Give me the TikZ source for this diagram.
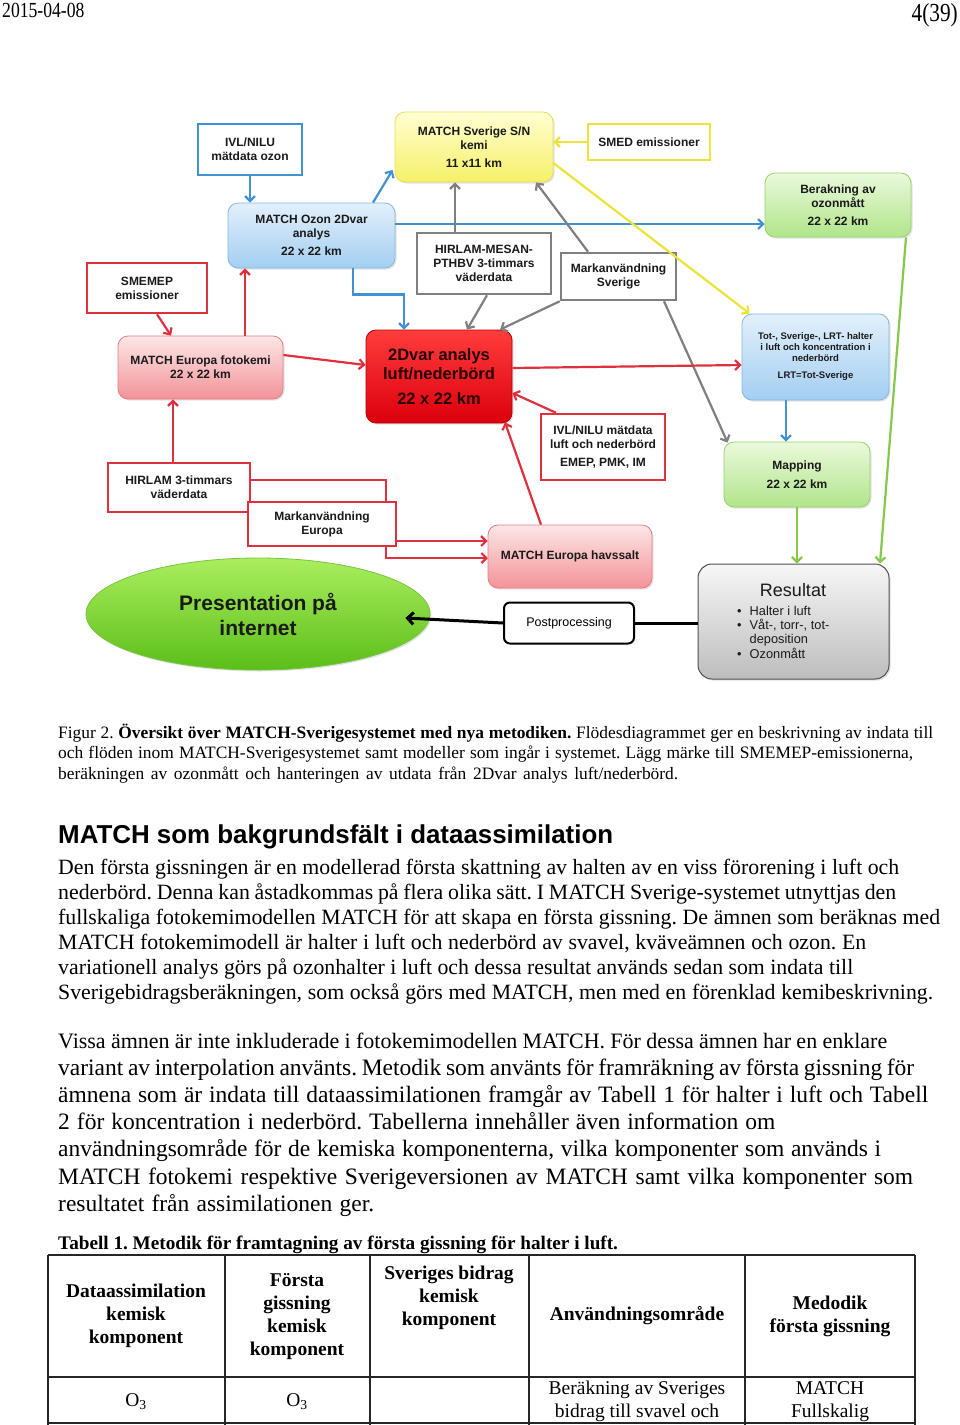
\documentclass[tikz,border=0pt]{standalone}
\usepackage{fontspec}
\setmainfont{Liberation Serif}
\setsansfont{Liberation Sans}
\newfontfamily\condserif[FakeStretch=0.82]{Liberation Serif}
\usetikzlibrary{arrows.meta,shapes.geometric,shadows,calc}
\frenchspacing
\newcommand{\fitline}[2]{\makebox[#1pt][s]{#2}}
\definecolor{blueln}{HTML}{4192D2}
\definecolor{bluetop}{HTML}{E2F0FB}
\definecolor{bluebot}{HTML}{A3CEF1}
\definecolor{bluebd}{HTML}{86B8E2}
\definecolor{yelln}{HTML}{EDE43A}
\definecolor{yeltop}{HTML}{FFFFD2}
\definecolor{yelbot}{HTML}{F6F068}
\definecolor{yelbd}{HTML}{E6DE5A}
\definecolor{greenln}{HTML}{86C94A}
\definecolor{greentop}{HTML}{EAF9DC}
\definecolor{greenbot}{HTML}{B0E58A}
\definecolor{greenbd}{HTML}{98D26A}
\definecolor{redln}{HTML}{E0303E}
\definecolor{pinktop}{HTML}{FDE6E6}
\definecolor{pinkbot}{HTML}{F29398}
\definecolor{pinkbd}{HTML}{E77D83}
\definecolor{dvartop}{HTML}{FF3C3C}
\definecolor{dvarbot}{HTML}{DC000C}
\definecolor{dvarbd}{HTML}{B5000A}
\definecolor{grayln}{HTML}{808080}
\definecolor{elltop}{HTML}{AAEE5E}
\definecolor{ellbot}{HTML}{5BBE18}
\definecolor{ellbd}{HTML}{78C444}
\definecolor{restop}{HTML}{F6F6F6}
\definecolor{resbot}{HTML}{BDBDBD}
\definecolor{resbd}{HTML}{505050}
\definecolor{dgtext}{HTML}{1A1A1A}
\tikzset{
  dg/.style={font=\sffamily\bfseries\fontsize{12}{14}\selectfont, align=center, text=dgtext, inner sep=0pt},
  plainbox/.style={dg, rectangle, draw, line width=2.5pt, fill=white},
  rbox/.style={dg, rectangle, rounded corners=10pt, draw, line width=0.8pt,
     drop shadow={opacity=0.22, shadow xshift=1.5pt, shadow yshift=-1.5pt}},
  bluebox/.style={rbox, draw=bluebd, top color=bluetop, bottom color=bluebot},
  yelbox/.style={rbox, draw=yelbd, top color=yeltop, bottom color=yelbot},
  greenbox/.style={rbox, draw=greenbd, top color=greentop, bottom color=greenbot},
  pinkbox/.style={rbox, draw=pinkbd, top color=pinktop, bottom color=pinkbot},
  conn/.style={line width=2.2pt, -{Straight Barb[length=5pt,width=10pt]}},
  bodytxt/.style={anchor=base west, inner sep=0pt, font=\fontsize{21.8}{25}\selectfont},
  bodytxtb/.style={anchor=base west, inner sep=0pt, font=\fontsize{23.5}{27}\selectfont},
  captxt/.style={anchor=base west, inner sep=0pt, font=\fontsize{17.4}{20}\selectfont},
  tabtxt/.style={inner sep=0pt, align=center, font=\bfseries\fontsize{19.5}{23}\selectfont},
  tabrow/.style={inner sep=0pt, align=center, font=\fontsize{19.5}{23}\selectfont},
  tabline/.style={line width=1.3pt, black!85},
}
\begin{document}
\begin{tikzpicture}[x=1pt,y=-1pt]
\useasboundingbox (0,0) rectangle (960,1425);
\fill[white] (0,0) rectangle (960,1425);

% header
\node[anchor=base west, inner sep=0pt, font=\condserif\fontsize{21.5}{24}\selectfont] (date) at (2,17) {2015-04-08};
\node[anchor=base east, inner sep=0pt, font=\condserif\fontsize{26}{28}\selectfont] (page) at (958,21) {4(39)};

% ---------- diagram nodes ----------
\node[plainbox, draw=blueln, minimum width=104pt, minimum height=51pt] (ivlozon) at (250,149.5) {IVL/NILU\\mätdata ozon};
\node[yelbox, minimum width=158pt, minimum height=70pt] (sverige) at (474,147) {MATCH Sverige S/N\\kemi\\[4pt]11 x11 km};
\node[plainbox, draw=yelln, minimum width=122pt, minimum height=36pt] (smed) at (649,142) {SMED emissioner};
\node[greenbox, minimum width=146pt, minimum height=64pt] (berak) at (838,205) {Berakning av\\ozonmått\\[4pt]22 x 22 km};
\node[bluebox, minimum width=167pt, minimum height=65pt] (ozon) at (311.5,235.5) {MATCH Ozon 2Dvar\\analys\\[4pt]22 x 22 km};
\node[plainbox, draw=grayln, minimum width=134pt, minimum height=61pt] (hirmes) at (484,263.5) {HIRLAM-MESAN-\\PTHBV 3-timmars\\väderdata};
\node[plainbox, draw=grayln, minimum width=115pt, minimum height=47pt] (marksv) at (618.5,276.5) {Markanvändning\\Sverige};
\node[plainbox, draw=redln, minimum width=120pt, minimum height=50pt] (smemep) at (147,288) {SMEMEP\\emissioner};
\node[pinkbox, minimum width=165pt, minimum height=63pt] (eurfoto) at (200.5,367.5) {MATCH Europa fotokemi\\22 x 22 km};
\node[rbox, draw=dvarbd, top color=dvartop, bottom color=dvarbot, minimum width=146pt, minimum height=93pt,
      font=\sffamily\bfseries\fontsize{16.5}{19}\selectfont, text=black!85!red] (dvar) at (439,376.5) {2Dvar analys\\luft/nederbörd\\[6pt]22 x 22 km};
\node[bluebox, minimum width=147pt, minimum height=86pt, font=\sffamily\bfseries\fontsize{9.5}{11}\selectfont] (tot) at (815.5,357)
      {Tot-, Sverige-, LRT- halter\\i luft och koncentration i\\nederbörd\\[6pt]LRT=Tot-Sverige};
\node[plainbox, draw=redln, minimum width=124pt, minimum height=66pt] (ivlluft) at (603,447) {IVL/NILU mätdata\\luft och nederbörd\\[4pt]EMEP, PMK, IM};
\node[greenbox, minimum width=146pt, minimum height=65pt] (mapping) at (797,474.5) {Mapping\\[5pt]22 x 22 km};
\node[plainbox, draw=redln, minimum width=142pt, minimum height=49pt] (hirlam) at (179,487.5) {HIRLAM 3-timmars\\väderdata};

% connector that runs behind the Markanvändning Europa box
\draw[conn, redln] ([yshift=7.5pt]hirlam.east) -- ++(135,0) coordinate (hbend) -- (hbend |- 0,558) coordinate (hbend2) -- (hbend2 -| 488,0) coordinate (havin);

\node[plainbox, draw=redln, minimum width=148pt, minimum height=44pt] (markeu) at (322,524) {Markanvändning\\Europa};
\node[pinkbox, minimum width=164pt, minimum height=63pt] (havssalt) at (570,556.5) {MATCH Europa havssalt};

\node[ellipse, draw=ellbd, line width=0.8pt, top color=elltop, bottom color=ellbot, minimum width=344pt, minimum height=112pt, inner sep=0pt,
      align=center, font=\sffamily\bfseries\fontsize{21}{25}\selectfont, text=dgtext,
      drop shadow={opacity=0.22, shadow xshift=1.5pt, shadow yshift=-1.5pt}] (pres) at (258,614) {Presentation på\\internet};
\node[rectangle, rounded corners=6pt, draw=black, line width=2pt, fill=white, minimum width=130pt, minimum height=41pt, inner sep=0pt,
      font=\sffamily\fontsize{12.5}{14}\selectfont] (post) at (569,623) {Postprocessing};
\node[rectangle, rounded corners=14pt, draw=resbd, line width=1pt, top color=restop, bottom color=resbot, minimum width=191pt, minimum height=115pt,
      drop shadow={opacity=0.25, shadow xshift=1.5pt, shadow yshift=-1.5pt}] (result) at (793.5,621.5) {};
\node[inner sep=0pt, font=\sffamily\fontsize{18}{20}\selectfont, text=dgtext] (restitle) at (793,590) {Resultat};
\node[anchor=north west, inner sep=0pt, font=\sffamily\fontsize{12.8}{14}\selectfont, text=dgtext] (reslist) at (737,605)
  {\begin{tabular}{@{}l@{\hspace{8pt}}l@{}}\textbullet & Halter i luft\\ \textbullet & Våt-, torr-, tot-\\ & deposition\\ \textbullet & Ozonmått\end{tabular}};

% blue
\draw[conn, blueln] (ivlozon.south) -- (ivlozon.south |- ozon.north);
\draw[conn, blueln] ([xshift=61.5pt]ozon.north) -- ([xshift=-2pt,yshift=-23pt]sverige.west);
\draw[conn, blueln] ([yshift=11.5pt]ozon.east) -- ([yshift=11.5pt]ozon.east -| berak.west);
\draw[conn, blueln] ([xshift=41.5pt]ozon.south) -- ++(0,26) -| ([xshift=-35pt]dvar.north);
\draw[conn, blueln] ([xshift=-29.5pt]tot.south) -- ([xshift=-29.5pt]tot.south |- mapping.north);
% gray
\draw[conn, grayln] ([xshift=-29pt]hirmes.north) -- ([xshift=-29pt]hirmes.north |- sverige.south);
\draw[conn, grayln] ([xshift=3pt]hirmes.south) -- ([xshift=28pt]dvar.north);
\draw[conn, grayln] (marksv.south west) -- ([xshift=61pt]dvar.north);
\draw[conn, grayln] ([xshift=-30.5pt]marksv.north) -- ([xshift=62pt]sverige.south);
\draw[conn, grayln] ([xshift=45.5pt]marksv.south) -- ([xshift=4pt,yshift=-1pt]mapping.north west);
% yellow
\draw[conn, yelln] (smed.west) -- (smed.west -| sverige.east);
\draw[conn, yelln] ([yshift=-16pt]sverige.east) -- ([xshift=8pt]tot.north west);
% green
\draw[conn, greenln] ([xshift=68pt]berak.south) -- ([xshift=86.5pt]result.north);
\draw[conn, greenln] (mapping.south) -- (mapping.south |- result.north);
% red
\draw[conn, redln] ([xshift=10pt]smemep.south) -- ([xshift=-29.5pt]eurfoto.north);
\draw[conn, redln] ([xshift=44.5pt]eurfoto.north) -- ([xshift=44.5pt]eurfoto.north |- ozon.south);
\draw[conn, redln] ([yshift=12.5pt]eurfoto.east) -- ([yshift=11.5pt]dvar.west);
\draw[conn, redln] ([xshift=-6pt]hirlam.north) -- ([xshift=-6pt]hirlam.north |- eurfoto.south);
\draw[conn, redln] ([yshift=-17pt]markeu.east) -- ([yshift=-17pt]markeu.east -| havssalt.west);
\draw[conn, redln] ([xshift=-29pt]havssalt.north) -- ([xshift=66pt,yshift=1pt]dvar.south);
\draw[conn, redln] ([xshift=-47pt]ivlluft.north) -- ([yshift=-16.5pt]dvar.east);
\draw[conn, redln] ([yshift=8.5pt]dvar.east) -- ([yshift=-8pt]tot.west);
% black
\draw[line width=3pt] ([yshift=-1.5pt]result.west) -- (post.east);
\draw[line width=3pt, -{Straight Barb[length=6pt,width=12pt]}] (post.west) -- ([xshift=-25pt,yshift=-4pt]pres.east);

% ---------- caption ----------
\node[captxt] (cap1) at (58,738) {\fitline{875}{Figur 2. \textbf{Översikt över MATCH-Sverigesystemet med nya metodiken.} Flödesdiagrammet ger en beskrivning av indata till}};
\node[captxt] (cap2) at (58,758) {\fitline{855}{och flöden inom MATCH-Sverigesystemet samt modeller som ingår i systemet. Lägg märke till SMEMEP-emissionerna,}};
\node[captxt] (cap3) at (58,779) {\fitline{620}{beräkningen av ozonmått och hanteringen av utdata från 2Dvar analys luft/nederbörd.}};

% ---------- heading ----------
\node[anchor=base west, inner sep=0pt, font=\sffamily\bfseries\fontsize{25.9}{28}\selectfont] (head) at (58,843.5) {MATCH som bakgrundsfält i dataassimilation};

% ---------- paragraph 1 ----------
\node[bodytxt] (pa1) at (58,874) {\fitline{841}{Den första gissningen är en modellerad första skattning av halten av en viss förorening i luft och}};
\node[bodytxt] (pa2) at (58,899) {\fitline{838}{nederbörd. Denna kan åstadkommas på flera olika sätt. I MATCH Sverige-systemet utnyttjas den}};
\node[bodytxt] (pa3) at (58,924) {\fitline{882}{fullskaliga fotokemimodellen MATCH för att skapa en första gissning. De ämnen som beräknas med}};
\node[bodytxt] (pa4) at (58,949) {\fitline{808}{MATCH fotokemimodell är halter i luft och nederbörd av svavel, kväveämnen och ozon. En}};
\node[bodytxt] (pa5) at (58,974) {\fitline{795}{variationell analys görs på ozonhalter i luft och dessa resultat används sedan som indata till}};
\node[bodytxt] (pa6) at (58,999) {\fitline{875}{Sverigebidragsberäkningen, som också görs med MATCH, men med en förenklad kemibeskrivning.}};
% ---------- paragraph 2 ----------
\node[bodytxtb, font=\fontsize{22}{27}\selectfont] (pb1) at (58,1048) {\fitline{829}{Vissa ämnen är inte inkluderade i fotokemimodellen MATCH. För dessa ämnen har en enklare}};
\node[bodytxtb] (pb2) at (58,1075.2) {\fitline{856}{variant av interpolation använts. Metodik som använts för framräkning av första gissning för}};
\node[bodytxtb] (pb3) at (58,1102.4) {\fitline{870}{ämnena som är indata till dataassimilationen framgår av Tabell 1 för halter i luft och Tabell}};
\node[bodytxtb] (pb4) at (58,1129.6) {\fitline{717}{2 för koncentration i nederbörd. Tabellerna innehåller även information om}};
\node[bodytxtb] (pb5) at (58,1156.8) {\fitline{823}{användningsområde för de kemiska komponenterna, vilka komponenter som används i}};
\node[bodytxtb] (pb6) at (58,1184) {\fitline{855}{MATCH fotokemi respektive Sverigeversionen av MATCH samt vilka komponenter som}};
\node[bodytxtb] (pb7) at (58,1211.2) {\fitline{316}{resultatet från assimilationen ger.}};

% ---------- table ----------
\node[anchor=base west, inner sep=0pt, font=\bfseries\fontsize{19.2}{22}\selectfont] (tabcap) at (58,1249) {Tabell 1. Metodik för framtagning av första gissning för halter i luft.};
\draw[tabline] (48,1255) -- (915,1255);
\draw[tabline] (48,1377) -- (915,1377);
\draw[tabline] (48,1423) -- (915,1423);
\foreach \cx in {48,225,370,529,745,915} \draw[tabline] (\cx,1255) -- (\cx,1425);
\node[tabtxt] (h1) at (136,1316) {Dataassimilation\\kemisk\\komponent};
\node[tabtxt] (h2) at (297,1316.5) {Första\\gissning\\kemisk\\komponent};
\node[tabtxt, anchor=north] (h3) at (449,1266) {Sveriges bidrag\\kemisk\\komponent};
\node[tabtxt] (h4) at (637,1316) {Användningsområde};
\node[tabtxt] (h5) at (830,1316.5) {Medodik\\första gissning};
\node[tabrow] (r1) at (136,1402) {O\textsubscript{3}};
\node[tabrow] (r2) at (297,1402) {O\textsubscript{3}};
\node[tabrow] (r4) at (637,1401.5) {Beräkning av Sveriges\\bidrag till svavel och};
\node[tabrow] (r5) at (830,1401.5) {MATCH\\Fullskalig};
\end{tikzpicture}
\end{document}
